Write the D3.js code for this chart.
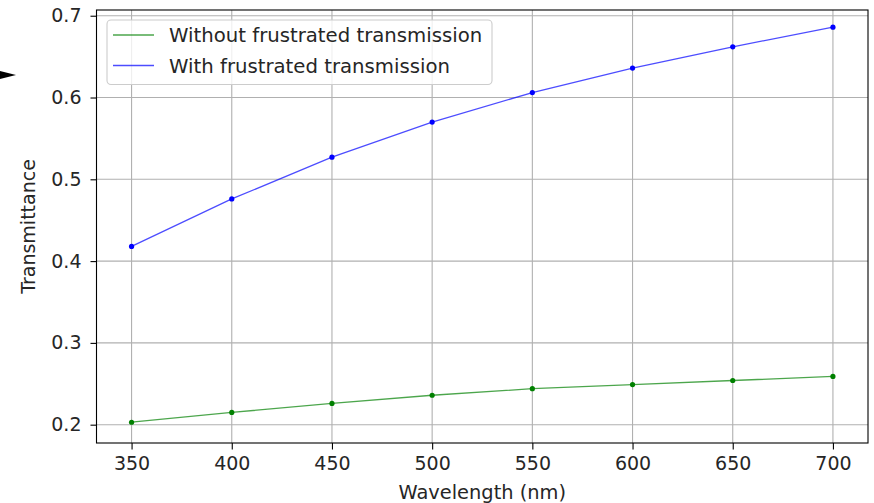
<!DOCTYPE html>
<html>
<head>
<meta charset="utf-8">
<script src="https://cdn.jsdelivr.net/npm/d3@7"></script>
<style>
	body { margin: 0; background: #fff; }
	svg { display: block; font-family: 'DejaVu Sans', sans-serif; }
</style>
</head>
<body>
<script>
// wavelengths (nm)
let wavelengths = [350, 400, 450, 500, 550, 600, 650, 700]
// transmittance values
let withoutFT = [0.203, 0.215, 0.226, 0.236, 0.244, 0.249, 0.254, 0.259]
let withFT =    [0.418, 0.476, 0.527, 0.570, 0.606, 0.636, 0.662, 0.686]

let xTicks = [350, 400, 450, 500, 550, 600, 650, 700]
let yTicks = [0.2, 0.3, 0.4, 0.5, 0.6, 0.7]

let seriesNames = ['Without frustrated transmission', 'With frustrated transmission']
let seriesColors = ['#008000', '#0000ff']

let W = 874, H = 503
let pLeft = 96.5, pRight = 868, pTop = 10, pBottom = 443
let fontSize = '19px'

let svg = d3.select('body').append('svg')
	.attr('width', W)
	.attr('height', H)

let x = d3.scaleLinear().domain([332.5, 717.5]).range([pLeft, pRight])
let y = d3.scaleLinear().domain([0.1776, 0.7070]).range([pBottom, pTop])

// grid
let grid = svg.append('g')
grid.selectAll('.vx').data(xTicks).enter().append('line')
	.attr('x1', d => x(d)).attr('x2', d => x(d))
	.attr('y1', pTop).attr('y2', pBottom)
	.attr('stroke', '#b0b0b0').attr('stroke-width', 1.1)
grid.selectAll('.hy').data(yTicks).enter().append('line')
	.attr('x1', pLeft).attr('x2', pRight)
	.attr('y1', d => y(d)).attr('y2', d => y(d))
	.attr('stroke', '#b0b0b0').attr('stroke-width', 1.1)

// axes
let xAxis = svg.append('g')
	.attr('transform', `translate(0, ${pBottom})`)
	.call(d3.axisBottom(x).tickValues(xTicks).tickFormat(d3.format('d')).tickSize(6.5).tickPadding(7))
let yAxis = svg.append('g')
	.attr('transform', `translate(${pLeft}, 0)`)
	.call(d3.axisLeft(y).tickValues(yTicks).tickFormat(d3.format('.1f')).tickSize(6).tickPadding(9))

for (let ax of [xAxis, yAxis]) {
	ax.select('.domain').remove()
	ax.selectAll('.tick line').attr('stroke', '#000').attr('stroke-width', 1.1)
	ax.selectAll('.tick text')
		.attr('fill', '#262626')
		.style('font-size', fontSize)
		.style('font-family', "'DejaVu Sans', sans-serif")
}

// frame
svg.append('rect')
	.attr('x', pLeft).attr('y', pTop)
	.attr('width', pRight - pLeft).attr('height', pBottom - pTop)
	.attr('fill', 'none').attr('stroke', '#000').attr('stroke-width', 1.1)

// axis labels
svg.append('text')
	.attr('x', (pLeft + pRight) / 2).attr('y', 499)
	.attr('text-anchor', 'middle')
	.attr('fill', '#262626')
	.style('font-size', '19.4px')
	.text('Wavelength (nm)')
svg.append('text')
	.attr('transform', `translate(35, ${(pTop + pBottom) / 2}) rotate(-90)`)
	.attr('text-anchor', 'middle')
	.attr('fill', '#262626')
	.style('font-size', fontSize)
	.text('Transmittance')

// series
let allSeries = [withoutFT, withFT]
let line = d3.line()
	.x((d, i) => x(wavelengths[i]))
	.y(d => y(d))

allSeries.forEach(function(vals, k) {
	svg.append('path')
		.attr('d', line(vals))
		.attr('fill', 'none')
		.attr('stroke', seriesColors[k])
		.attr('stroke-opacity', 0.7)
		.attr('stroke-width', 1.3)
	svg.selectAll('.pt' + k).data(vals).enter().append('circle')
		.attr('cx', (d, i) => x(wavelengths[i]))
		.attr('cy', d => y(d))
		.attr('r', 2.6)
		.attr('fill', seriesColors[k])
})

// legend
let lg = svg.append('g')
lg.append('rect')
	.attr('x', 107).attr('y', 20)
	.attr('width', 385).attr('height', 64.5)
	.attr('rx', 4)
	.attr('fill', '#fff').attr('fill-opacity', 0.8)
	.attr('stroke', '#cccccc').attr('stroke-width', 1.1)

let legendY = [35, 65.5]
seriesNames.forEach(function(name, k) {
	lg.append('line')
		.attr('x1', 113).attr('x2', 154)
		.attr('y1', legendY[k]).attr('y2', legendY[k])
		.attr('stroke', seriesColors[k])
		.attr('stroke-opacity', 0.7)
		.attr('stroke-width', 1.3)
	lg.append('text')
		.attr('x', 169).attr('y', legendY[k] + 7)
		.attr('fill', '#262626')
		.style('font-size', '19.7px')
		.text(name)
})

// annotation arrowhead peeking in at the left edge
svg.append('path')
	.attr('d', d3.line()([[-6, 69.5], [16, 75], [-6, 80.5]]) + 'Z')
	.attr('fill', '#000')
</script>
</body>
</html>
